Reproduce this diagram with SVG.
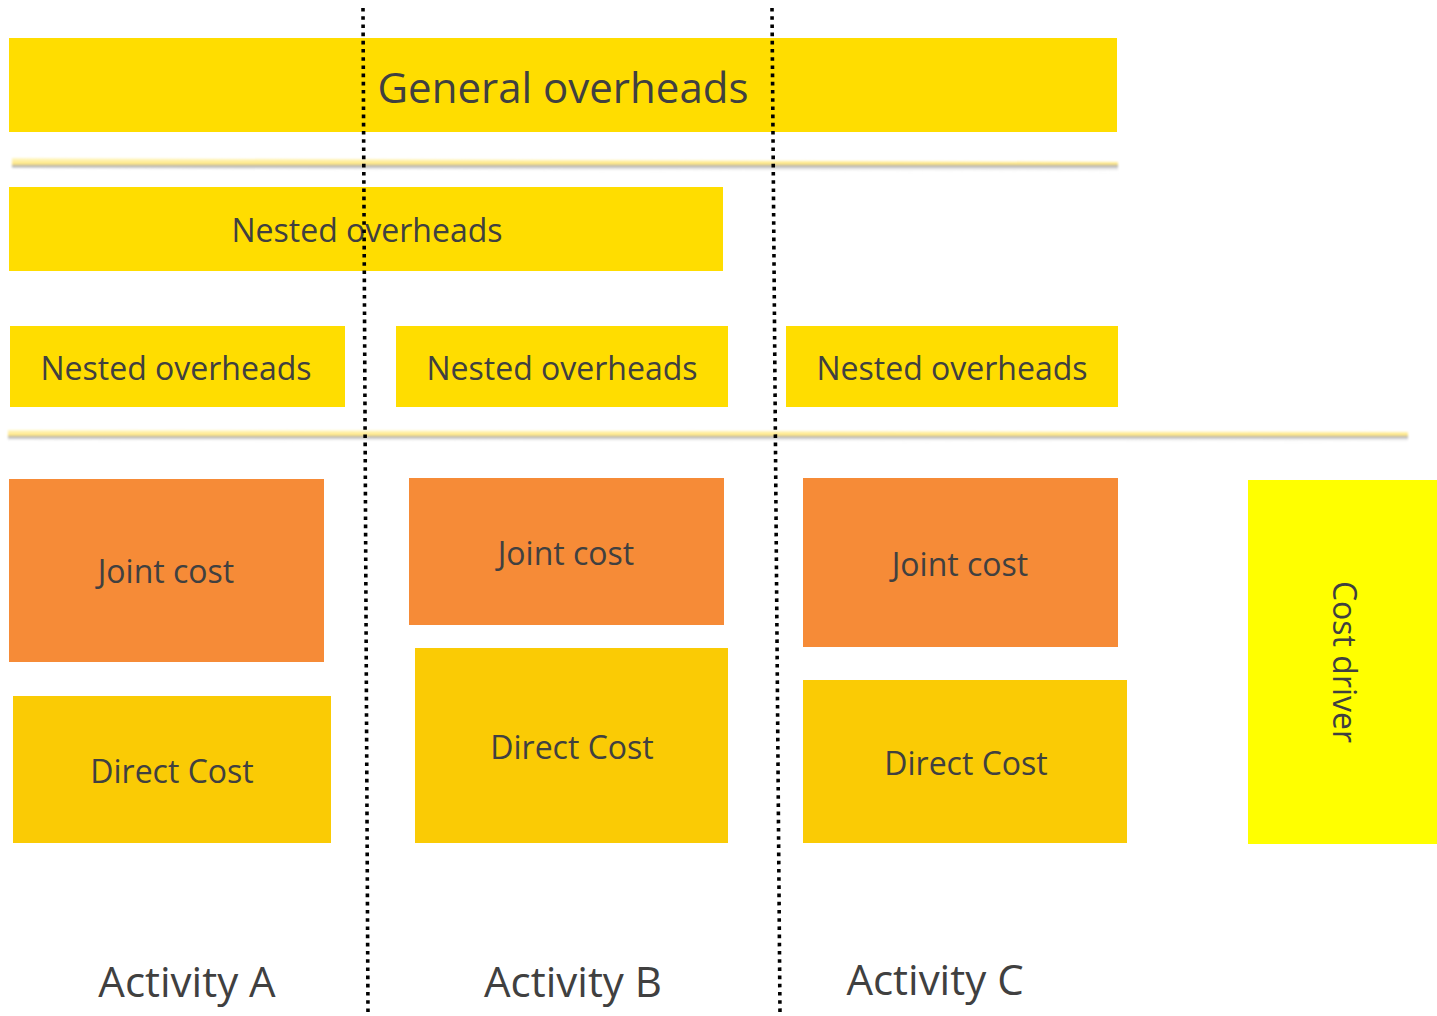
<svg xmlns="http://www.w3.org/2000/svg" width="1437" height="1016" viewBox="0 0 1437 1016">
<defs>
<style>
.t{font-family:"Open Sans","Liberation Sans",sans-serif;fill:#404040;text-anchor:middle;dominant-baseline:central}
.ov{fill:#FFDD00}
.jc{fill:#F68B37}
.dc{fill:#FACB05}
.dot{stroke:#000;stroke-width:3.6;stroke-dasharray:3.6 4.6;fill:none}
</style>
<linearGradient id="lg" x1="0" y1="0" x2="0" y2="1">
<stop offset="0" stop-color="#FFF8C8"/>
<stop offset="0.45" stop-color="#FFE680"/>
<stop offset="0.55" stop-color="#A8A8A8"/>
<stop offset="1" stop-color="#FFFFFF" stop-opacity="0"/>
</linearGradient>
<filter id="bl" x="-0.02" y="-2" width="1.04" height="5"><feGaussianBlur stdDeviation="1"/></filter>
</defs>
<rect width="1437" height="1016" fill="#fff"/>
<g id="separators">
<polygon points="12,158 1118,162 1118,172 12,168" fill="url(#lg)" filter="url(#bl)"/>
<polygon points="8,430 1408,432 1408,442 8,440" fill="url(#lg)" filter="url(#bl)"/>
</g>
<g id="general-overheads"><rect class="ov" x="9" y="38" width="1108" height="94"/><text class="t" x="563" y="86" font-size="42">General overheads</text></g>
<g id="nested-overheads-top"><rect class="ov" x="9" y="187" width="714" height="84"/><text class="t" x="367" y="229" font-size="32">Nested overheads</text></g>
<g id="nested-overheads-a"><rect class="ov" x="10" y="326" width="335" height="81"/><text class="t" x="176" y="367" font-size="32">Nested overheads</text></g>
<g id="nested-overheads-b"><rect class="ov" x="396" y="326" width="332" height="81"/><text class="t" x="562" y="367" font-size="32">Nested overheads</text></g>
<g id="nested-overheads-c"><rect class="ov" x="786" y="326" width="332" height="81"/><text class="t" x="952" y="367" font-size="32">Nested overheads</text></g>
<g id="joint-cost-a"><rect class="jc" x="9" y="479" width="315" height="183"/><text class="t" x="166" y="570" font-size="32">Joint cost</text></g>
<g id="joint-cost-b"><rect class="jc" x="409" y="478" width="315" height="147"/><text class="t" x="566" y="552" font-size="32">Joint cost</text></g>
<g id="joint-cost-c"><rect class="jc" x="803" y="478" width="315" height="169"/><text class="t" x="960" y="563" font-size="32">Joint cost</text></g>
<g id="direct-cost-a"><rect class="dc" x="13" y="696" width="318" height="147"/><text class="t" x="172" y="770" font-size="32">Direct Cost</text></g>
<g id="direct-cost-b"><rect class="dc" x="415" y="648" width="313" height="195"/><text class="t" x="572" y="746" font-size="32">Direct Cost</text></g>
<g id="direct-cost-c"><rect class="dc" x="803" y="680" width="324" height="163"/><text class="t" x="966" y="762" font-size="32">Direct Cost</text></g>
<g id="cost-driver"><rect fill="#FFFF00" x="1248" y="480" width="189" height="364"/><text class="t" x="0" y="0" font-size="32" transform="translate(1345,662) rotate(90)">Cost driver</text></g>
<g id="activity-a"><text class="t" x="187" y="980" font-size="42">Activity A</text></g>
<g id="activity-b"><text class="t" x="573" y="980" font-size="42">Activity B</text></g>
<g id="activity-c"><text class="t" x="935" y="978" font-size="42">Activity C</text></g>
<g id="connectors">
<line class="dot" x1="363" y1="8" x2="368" y2="1016"/>
<line class="dot" x1="772" y1="8" x2="780" y2="1016"/>
</g>
</svg>
